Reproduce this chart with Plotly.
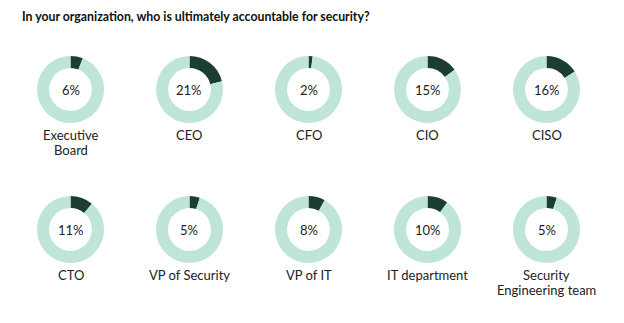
import plotly.graph_objects as go

categories = ["Executive<br>Board", "CEO", "CFO", "CIO", "CISO",
              "CTO", "VP of Security", "VP of IT", "IT department", "Security<br>Engineering team"]
values = [6, 21, 2, 15, 16, 11, 5, 8, 10, 5]
title = "In your organization, who is ultimately accountable for security?"

W, H = 624, 323
DARK = "#1c3d34"
MINT = "#bfe4da"
FONT = "Lato"

col0, colstep = 70.5, 119.0
row0, rowstep = 89.5, 140.0
R = 33.5
LINE = 15

fig = go.Figure()
annotations = []
for i, (cat, v) in enumerate(zip(categories, values)):
    r, c = divmod(i, 5)
    cx = col0 + c * colstep
    cy = row0 + r * rowstep
    fig.add_trace(go.Pie(
        values=[v, 100 - v],
        labels=["yes", "no"],
        marker=dict(colors=[DARK, MINT], line=dict(width=0)),
        hole=0.64,
        sort=False,
        direction="clockwise",
        rotation=0,
        textinfo="none",
        hoverinfo="skip",
        showlegend=False,
        domain=dict(x=[(cx - R) / W, (cx + R) / W],
                    y=[1 - (cy + R) / H, 1 - (cy - R) / H]),
    ))
    annotations.append(dict(
        x=cx / W, y=1 - cy / H, xref="paper", yref="paper",
        text=f"{v}%", showarrow=False, xanchor="center", yanchor="middle",
        font=dict(family=FONT, size=13, color="#222222"),
    ))
    for k, line in enumerate(cat.split("<br>")):
        annotations.append(dict(
            x=cx / W, y=1 - (cy + R + 12 + k * LINE) / H, xref="paper", yref="paper",
            text=line, showarrow=False, xanchor="center", yanchor="middle",
            font=dict(family=FONT, size=13, color="#222222"),
        ))

annotations.append(dict(
    x=20 / W, y=1 - 16 / H, xref="paper", yref="paper",
    text=f"<b>{title}</b>", showarrow=False, xanchor="left", yanchor="middle",
    font=dict(family=FONT, size=12.3, color="#111111"),
))

fig.update_layout(
    width=W, height=H,
    margin=dict(l=0, r=0, t=0, b=0),
    paper_bgcolor="white", plot_bgcolor="white",
    annotations=annotations,
)
fig.write_html("out.html")
